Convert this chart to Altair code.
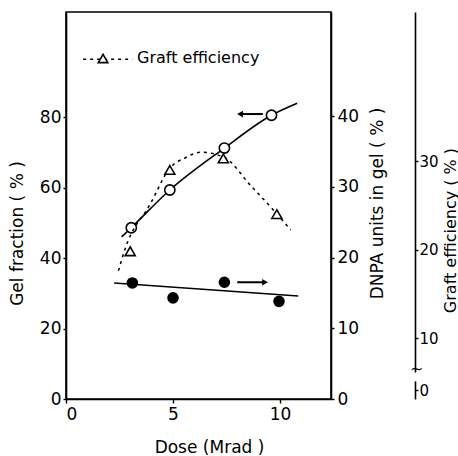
import altair as alt
import pandas as pd

# ---- data ----
dose_gel = [3.05, 4.85, 7.4, 9.6]
gel_fraction = [48.6, 59.3, 71.2, 80.5]

dose_dnpa = [3.1, 5.0, 7.4, 9.95]
dnpa_units = [16.4, 14.3, 16.5, 13.8]

dose_graft = [3.0, 4.85, 7.35, 9.85]
graft_eff = [19.8, 29.0, 30.3, 24.0]

gel_curve_dose = [2.6, 3.05, 4.85, 7.4, 9.6, 10.8]
gel_curve_val = [46.0, 48.6, 59.3, 71.2, 80.5, 83.9]

dnpa_fit_dose = [2.25, 10.85]
dnpa_fit_val = [16.4, 14.55]

graft_curve_dose = [2.45, 2.75, 3.95, 4.85, 5.6, 6.3, 7.4, 8.6, 9.86, 10.5]
graft_curve_val = [17.6, 20.0, 25.2, 29.2, 30.4, 31.0, 30.4, 27.3, 24.0, 22.2]

x_ticks = [0, 5, 10]
gel_ticks = [0, 20, 40, 60, 80]
dnpa_ticks = [0, 10, 20, 30, 40]
graft_ticks = [4.12, 10, 20, 30]

# ---- annotation positions (in data units) ----
arrow_gel = {"x": [9.2], "x2": [8.13], "val": [80.85]}
arrow_dnpa = {"x": [8.0], "x2": [9.3], "val": [16.5]}
legend_line = {"dose": [0.8, 3.1], "val": [96.4, 96.4]}
legend_sym = {"dose": [1.73], "val": [96.6]}
legend_txt = {"dose": [3.32], "val": [96.8], "t": ["Graft efficiency"]}
break_gap = {"x": [16.05], "x2": [16.75], "val": [6.1], "val2": [5.1]}
break_sym = {"dose": [16.38], "val": [6.45], "t": ["~"]}

FONT = "DejaVu Sans"
X_DOM = [0, 12.38]
GEL_DOM = [0, 109.8]
DNPA_DOM = [0, 54.7]
GRAFT_DOM = [3.11, 46.84]


def xenc(field="dose"):
    return alt.X(
        f"{field}:Q",
        scale=alt.Scale(domain=X_DOM, nice=False, zero=False),
        axis=alt.Axis(values=x_ticks, title="Dose (Mrad )", tickSize=4, labelPadding=3,
                      grid=False, titleX=143, titleY=48, titleBaseline="middle",
                      titleAlign="center"),
    )


def ygel(field="val"):
    return alt.Y(
        f"{field}:Q",
        scale=alt.Scale(domain=GEL_DOM, nice=False, zero=False),
        axis=alt.Axis(values=gel_ticks, title="Gel fraction ( % )", orient="left",
                      tickSize=3, labelPadding=2, grid=False, titleX=-49, titleY=221,
                      titleBaseline="middle", titleAngle=270, titleAlign="center"),
    )


def ydnpa(field="val"):
    return alt.Y(
        f"{field}:Q",
        scale=alt.Scale(domain=DNPA_DOM, nice=False, zero=False),
        axis=alt.Axis(values=dnpa_ticks, title="DNPA units in gel ( % )", orient="right",
                      tickSize=3, labelPadding=3, grid=False, titleX=46, titleY=191,
                      titleBaseline="middle", titleAngle=270, titleAlign="center"),
    )


def ygraft(field="val"):
    return alt.Y(
        f"{field}:Q",
        scale=alt.Scale(domain=GRAFT_DOM, nice=False, zero=False),
        axis=alt.Axis(values=graft_ticks, title="Graft efficiency ( % )", orient="right",
                      offset=84, tickSize=3, labelPadding=1, grid=False, titleX=35,
                      titleY=218, titleBaseline="middle", titleAngle=270,
                      titleAlign="center", zindex=0, labelFontSize=15, titleFontSize=16,
                      labelExpr="datum.value < 5 ? '0' : datum.label"),
    )


# ---- gel fraction group ----
gel_pts = pd.DataFrame({"dose": dose_gel, "val": gel_fraction})
gel_cur = pd.DataFrame({"dose": gel_curve_dose, "val": gel_curve_val})
arr_g = pd.DataFrame(arrow_gel)
leg_l = pd.DataFrame(legend_line)
leg_s = pd.DataFrame(legend_sym)
leg_t = pd.DataFrame(legend_txt)

gel_line = alt.Chart(gel_cur).mark_line(color="black", strokeWidth=1.6, interpolate="monotone").encode(
    x=xenc(), y=ygel())
gel_circ = alt.Chart(gel_pts).mark_point(shape="circle", size=105, filled=False, fill="white",
                                         fillOpacity=1, color="black", strokeWidth=1.6, opacity=1).encode(
    x=xenc(), y=ygel())
gel_arrow = alt.Chart(arr_g).mark_rule(color="black", strokeWidth=2).encode(
    x=xenc("x"), x2="x2:Q", y=ygel())
gel_head = alt.Chart(arr_g).mark_point(shape="triangle-left", size=45, filled=True, color="black",
                                       opacity=1).encode(x=xenc("x2"), y=ygel())
leg_line = alt.Chart(leg_l).mark_line(color="black", strokeWidth=1.5, strokeDash=[3, 4]).encode(
    x=xenc(), y=ygel())
leg_tri = alt.Chart(leg_s).mark_point(shape="triangle-up", size=90, filled=False, fill="white",
                                      fillOpacity=1, color="black", strokeWidth=1.6, opacity=1).encode(
    x=xenc(), y=ygel())
leg_text = alt.Chart(leg_t).mark_text(align="left", baseline="middle", font=FONT, fontSize=16,
                                      color="black").encode(x=xenc(), y=ygel(), text="t:N")

gel_group = alt.layer(gel_line, gel_circ, gel_arrow, gel_head, leg_line, leg_tri, leg_text)

# ---- DNPA group ----
dn_pts = pd.DataFrame({"dose": dose_dnpa, "val": dnpa_units})
dn_fit = pd.DataFrame({"dose": dnpa_fit_dose, "val": dnpa_fit_val})
arr_d = pd.DataFrame(arrow_dnpa)

dn_line = alt.Chart(dn_fit).mark_line(color="black", strokeWidth=1.6).encode(x=xenc(), y=ydnpa())
dn_circ = alt.Chart(dn_pts).mark_point(shape="circle", size=135, filled=True, color="black",
                                       opacity=1).encode(x=xenc(), y=ydnpa())
dn_arrow = alt.Chart(arr_d).mark_rule(color="black", strokeWidth=2).encode(
    x=xenc("x"), x2="x2:Q", y=ydnpa())
dn_head = alt.Chart(arr_d).mark_point(shape="triangle-right", size=45, filled=True, color="black",
                                      opacity=1).encode(x=xenc("x2"), y=ydnpa())

dnpa_group = alt.layer(dn_line, dn_circ, dn_arrow, dn_head)

# ---- graft efficiency group ----
gr_pts = pd.DataFrame({"dose": dose_graft, "val": graft_eff})
gr_cur = pd.DataFrame({"dose": graft_curve_dose, "val": graft_curve_val})
gap = pd.DataFrame(break_gap)
brk = pd.DataFrame(break_sym)

gr_line = alt.Chart(gr_cur).mark_line(color="black", strokeWidth=1.5, strokeDash=[3, 4],
                                      interpolate="monotone").encode(x=xenc(), y=ygraft())
gr_tri = alt.Chart(gr_pts).mark_point(shape="triangle-up", size=100, filled=False, fill="white",
                                      fillOpacity=1, color="black", strokeWidth=1.6, opacity=1).encode(
    x=xenc(), y=ygraft())
gr_gap = alt.Chart(gap).mark_rect(color="white").encode(
    x=xenc("x"), x2="x2:Q", y=ygraft("val"), y2="val2:Q")
gr_brk = alt.Chart(brk).mark_text(font=FONT, fontSize=16, color="black", baseline="middle").encode(
    x=xenc(), y=ygraft(), text="t:N")

graft_group = alt.layer(gr_line, gr_tri, gr_gap, gr_brk)

chart = alt.layer(gel_group, dnpa_group, graft_group).resolve_scale(y="independent").properties(
    width=265, height=387,
    autosize=alt.AutoSizeParams(type="none"),
    padding={"left": 66, "top": 12, "right": 127, "bottom": 57},
    background="white",
).configure_view(stroke="black", strokeWidth=1.6).configure_axis(
    domainColor="black", domainWidth=1.6, tickColor="black", tickWidth=1.4,
    labelFont=FONT, labelFontSize=17, labelColor="black",
    titleFont=FONT, titleFontSize=17, titleColor="black", titleFontWeight="normal",
)

chart.save("out.html", embed_options={"renderer": "svg", "actions": False})
